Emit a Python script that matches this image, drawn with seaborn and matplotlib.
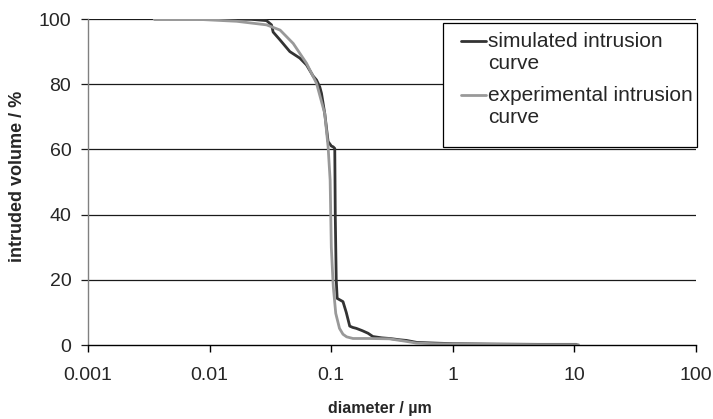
import matplotlib
matplotlib.use("Agg")
import matplotlib.pyplot as plt
from matplotlib.legend_handler import HandlerLine2D
from matplotlib.patches import Rectangle
import seaborn as sns
import pandas as pd
import numpy as np

# Simulated intrusion curve (diameter in µm, intruded volume in %)
sim_d = [0.0035, 0.008, 0.015, 0.022, 0.0294, 0.0323, 0.0333, 0.0379, 0.0457, 0.0552,
         0.0627, 0.071, 0.0757, 0.0805, 0.0832, 0.0885, 0.0943, 0.1005, 0.1037, 0.107,
         0.108, 0.110, 0.112, 0.125, 0.133, 0.142, 0.150, 0.161, 0.180, 0.201, 0.22,
         0.26, 0.303, 0.366, 0.416, 0.505, 0.7, 1.0, 2.0, 5.0, 10.4]
sim_v = [100.0, 100.0, 100.0, 99.9, 99.5, 98.2, 96.0, 93.6, 90.0, 88.0,
         85.9, 82.5, 81.3, 79.2, 77.2, 71.0, 62.4, 61.0, 60.8, 60.3,
         40.0, 20.0, 14.3, 13.3, 10.0, 5.8, 5.4, 5.1, 4.4, 3.6, 2.6,
         2.2, 2.0, 1.6, 1.4, 0.8, 0.6, 0.4, 0.3, 0.2, 0.2]

# Experimental intrusion curve
exp_d = [0.0035, 0.008, 0.0167, 0.0294, 0.038, 0.0487, 0.0627, 0.0757, 0.0885, 0.0943,
         0.098, 0.1002, 0.104, 0.109, 0.117, 0.125, 0.134, 0.151, 0.2, 0.3, 0.4, 0.5,
         0.7, 1.0, 2.0, 5.0, 10.8]
exp_v = [100.0, 99.9, 99.3, 98.2, 96.6, 92.5, 86.4, 80.3, 71.0, 60.8,
         50.6, 30.0, 17.9, 9.7, 5.1, 3.3, 2.5, 2.0, 2.0, 1.9, 1.2, 0.6,
         0.4, 0.3, 0.2, 0.1, 0.1]

sim_label = "simulated intrusion\ncurve"
exp_label = "experimental intrusion\ncurve"

df = pd.concat([
    pd.DataFrame({"diameter": sim_d, "volume": sim_v, "series": sim_label}),
    pd.DataFrame({"diameter": exp_d, "volume": exp_v, "series": exp_label}),
], ignore_index=True)

sns.set_style("white")
plt.rcParams["font.family"] = ["Liberation Sans", "DejaVu Sans"]

LEG_FS = 15
LEG_LS = 1.16
SEG_PT = 18.0  # visible handle segment length in points


class TopLineHandler(HandlerLine2D):
    def create_artists(self, legend, orig_handle, xdescent, ydescent, width,
                       height, fontsize, trans):
        arts = super().create_artists(legend, orig_handle, xdescent, ydescent,
                                      width, height, fontsize, trans)
        for a in arts:
            yd = np.asarray(a.get_ydata(), dtype=float)
            a.set_ydata(yd + 0.5 * fontsize * LEG_LS * 0.95)
            xd = np.asarray(a.get_xdata(), dtype=float)
            if xd.size >= 2:
                x1 = xd.max()
                a.set_xdata(np.linspace(x1 - SEG_PT, x1, xd.size))
        return arts


fig = plt.figure(figsize=(7.13, 4.19), dpi=100)
ax = fig.add_axes([88 / 713, 1 - 345 / 419, 608 / 713, 326 / 419])

for y in [20, 40, 60, 80, 100]:
    ax.axhline(y, color="#1a1a1a", lw=0.9, zorder=0)

sns.lineplot(data=df, x="diameter", y="volume", hue="series", sort=False,
             palette={sim_label: "#333333", exp_label: "#999999"},
             linewidth=2.0, ax=ax, estimator=None)

ax.set_xscale("log")
ax.set_xlim(0.001, 100)
ax.set_ylim(0, 100)
ax.set_xticks([0.001, 0.01, 0.1, 1, 10, 100])
ax.set_xticklabels(["0.001", "0.01", "0.1", "1", "10", "100"])
ax.set_yticks([0, 20, 40, 60, 80, 100])
ax.set_yticklabels(["0", "20", "40", "60", "80", "100"])
ax.xaxis.set_minor_locator(matplotlib.ticker.NullLocator())

for s in ["top", "right"]:
    ax.spines[s].set_visible(False)
ax.spines["left"].set_color("#808080")
ax.spines["left"].set_linewidth(1.0)
ax.spines["bottom"].set_color("black")
ax.spines["bottom"].set_linewidth(1.0)

ax.tick_params(axis="x", direction="out", length=5, width=1, color="black",
               labelsize=14, pad=11, bottom=True)
ax.tick_params(axis="y", direction="out", length=5, width=0.9, color="#1a1a1a",
               labelsize=14, pad=7, left=True)

ax.set_xlabel("diameter / µm", fontsize=11.5, fontweight="bold")
ax.set_ylabel("intruded volume / %", fontsize=13, fontweight="bold")
ax.xaxis.set_label_coords(0.48, -0.172)
ax.yaxis.set_label_coords(-0.102, 0.518)

handles, labels = ax.get_legend_handles_labels()
leg = ax.legend(handles, labels, loc="upper right", bbox_to_anchor=(1.0033, 0.9755),
                fontsize=LEG_FS, frameon=False, handlelength=1.83,
                handletextpad=0.1, borderpad=0.25, labelspacing=0.65,
                borderaxespad=0,
                handler_map={h: TopLineHandler() for h in handles})
leg.set_zorder(6)
for t in leg.get_texts():
    t.set_linespacing(LEG_LS)
for line in leg.get_lines():
    line.set_linewidth(2.0)

# Legend frame (Excel style: extra space at the bottom, tight on the right)
fig.canvas.draw()
bb = leg.get_window_extent(fig.canvas.get_renderer())
inv = ax.transAxes.inverted()
(fx0, fy0) = inv.transform((bb.x0, bb.y0 - 15))
(fx1, fy1) = inv.transform((bb.x1 - 1, bb.y1 + 4))
frame = Rectangle((fx0, fy0), fx1 - fx0, fy1 - fy0, transform=ax.transAxes,
                  facecolor="white", edgecolor="black", linewidth=0.9,
                  zorder=5.5, clip_on=False)
ax.add_patch(frame)

fig.savefig("out.png", dpi=100)
